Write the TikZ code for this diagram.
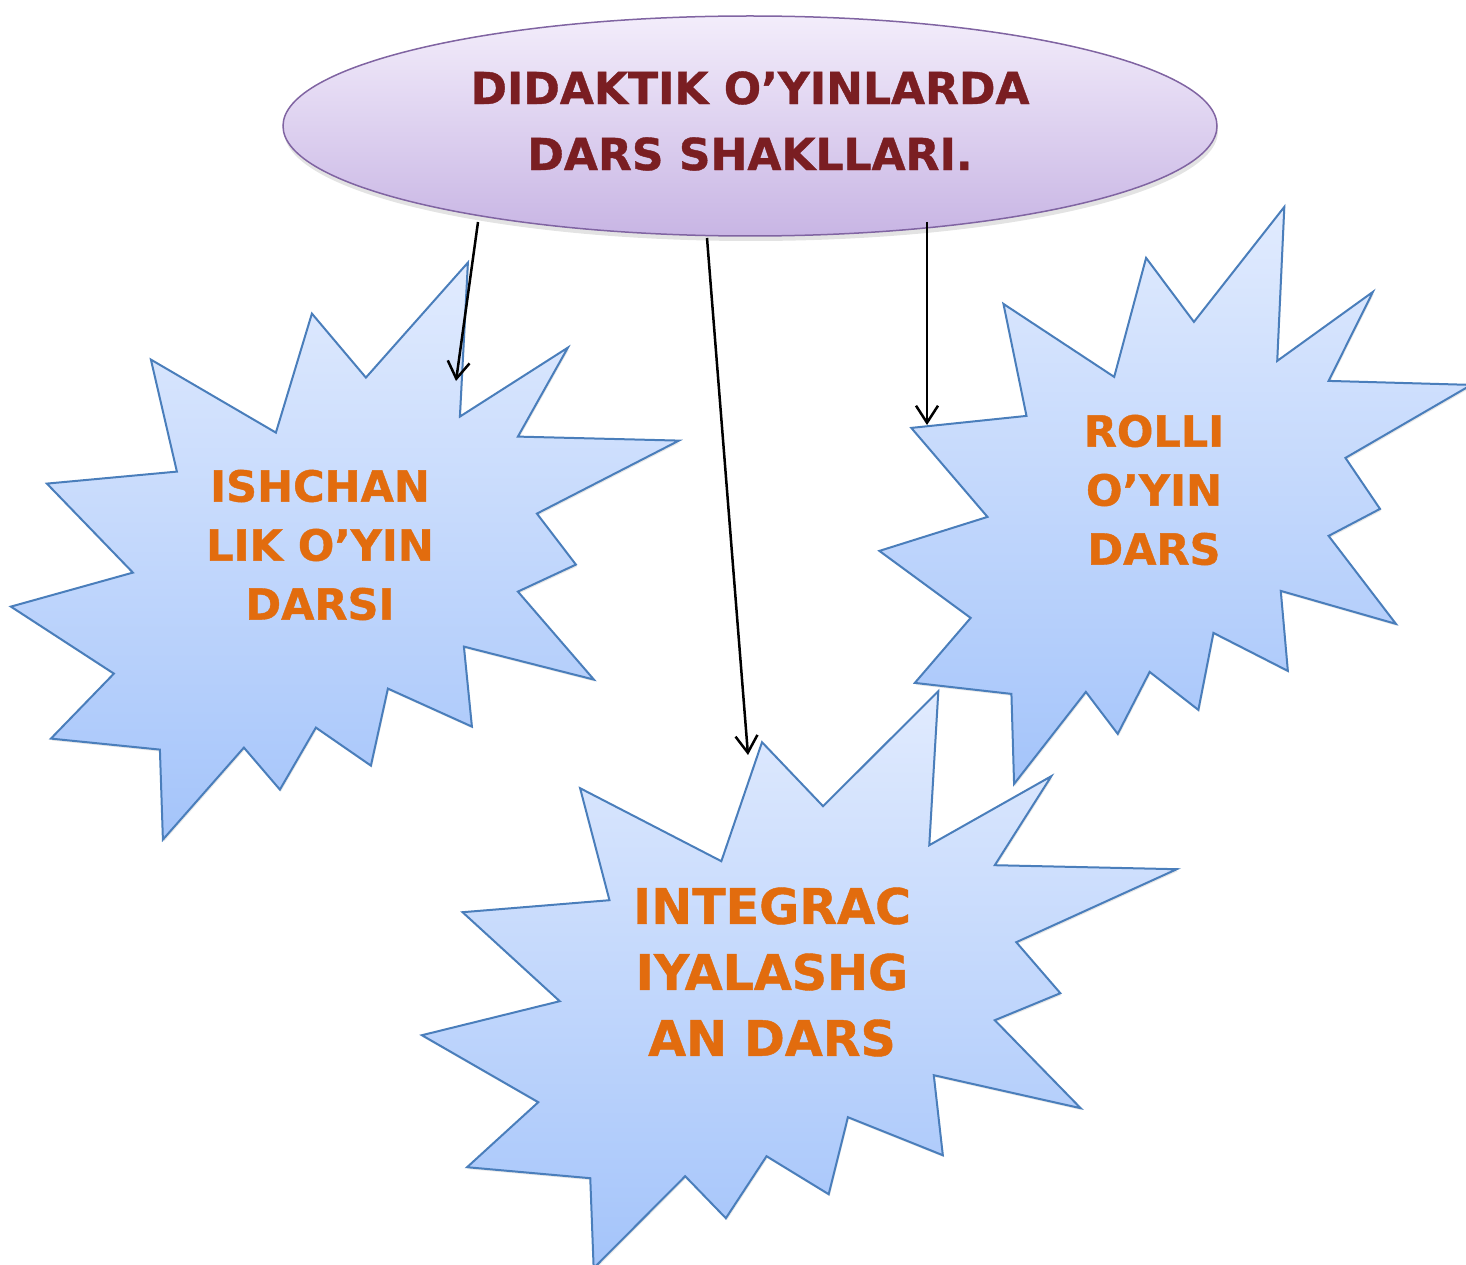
\documentclass[tikz,border=0pt]{standalone}
\usepackage{fontspec}
\setmainfont{DejaVu Sans}
\newfontfamily\heavyfont[FakeBold=0.9]{DejaVu Sans Bold}
\usetikzlibrary{shapes.geometric,arrows.meta,shadows}
\definecolor{ellTop}{RGB}{243,237,251}
\definecolor{ellBot}{RGB}{200,181,228}
\definecolor{ellLine}{RGB}{128,100,162}
\definecolor{starTop}{RGB}{225,235,254}
\definecolor{starBot}{RGB}{164,196,250}
\definecolor{starLine}{RGB}{74,126,187}
\definecolor{titleRed}{RGB}{122,30,34}
\definecolor{orangeTxt}{RGB}{226,108,14}
\tikzset{
  starshape/.style={draw=starLine, line width=2pt, line join=miter,
    top color=starTop, bottom color=starBot,
    drop shadow={opacity=.18, shadow xshift=1pt, shadow yshift=-2pt}},
  startext/.style={text=orangeTxt, font=\heavyfont\fontsize{43}{59}\selectfont,
    align=center, inner sep=0pt},
  arr/.style={line width=2.5pt, -{Straight Barb[length=17pt,width=22pt,line width=2.5pt]}},
  explosion/.pic={
    \path[starshape] (0,0) -- (-8,154) -- (100,85) -- (50,174) -- (211,178)
      -- (69,251) -- (108,302) -- (50,329) -- (126,417) -- (-4,384)
      -- (4,464) -- (-80,426) -- (-97,503) -- (-152,465) -- (-188,527)
      -- (-224,485) -- (-305,577) -- (-308,487) -- (-417,476) -- (-354,411)
      -- (-457,344) -- (-335,310) -- (-421,221) -- (-291,209) -- (-317,97)
      -- (-192,170) -- (-156,51) -- (-102,115) -- cycle;
  }
}
\begin{document}
\begin{tikzpicture}[x=1pt,y=-1pt]
\useasboundingbox (0,0) rectangle (1466,1265);
% title ellipse
\node[ellipse, draw=ellLine, line width=1.5pt, minimum width=934pt, minimum height=220pt,
  inner sep=0pt, top color=ellTop, bottom color=ellBot,
  drop shadow={opacity=.22, shadow xshift=1pt, shadow yshift=-5pt}] (ell) at (750,126) {};
\node[text=titleRed, font=\heavyfont\fontsize{44}{66}\selectfont, align=center, inner sep=0pt]
  (title) at (750,121) {DIDAKTIK O’YINLARDA\\DARS SHAKLLARI.};
% stars
\pic at (467.9,262.6) {explosion};
\pic[xscale=0.886] at (1284.3,206.9) {explosion};
\pic[xscale=1.13] at (938.3,691.2) {explosion};
\node[startext] (ishchan) at (320,545) {ISHCHAN\\LIK O’YIN\\DARSI};
\node[startext] (rolli) at (1154,490) {ROLLI\\O’YIN\\DARS};
\node[startext, font=\heavyfont\fontsize{49}{66}\selectfont] (integ) at (772,972)
  {INTEGRAC\\IYALASHG\\AN DARS};
% connectors
\coordinate (s1) at (478,222);
\coordinate (e1) at (456,381);
\coordinate (s2) at (707,238);
\coordinate (e2) at (748,755);
\coordinate (s3) at (927,222);
\coordinate (e3) at (927,425);
\draw[arr] (s1) -- (e1);
\draw[arr] (s2) -- (e2);
\draw[arr] (s3) -- (e3);
\end{tikzpicture}
\end{document}
